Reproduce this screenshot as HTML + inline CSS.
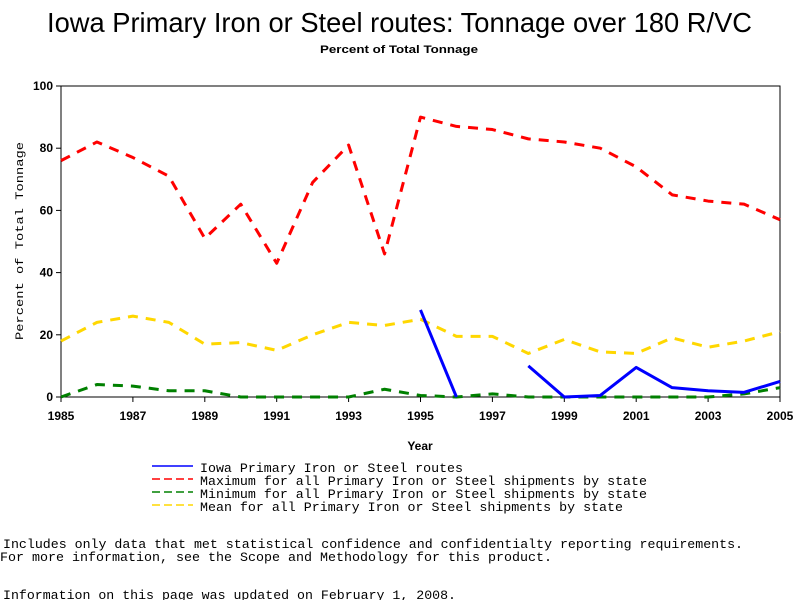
<!DOCTYPE html>
<html><head><meta charset="utf-8"><style>
html,body{margin:0;padding:0;background:#fff;width:800px;height:600px;overflow:hidden}
svg text{font-family:"Liberation Sans",sans-serif}
svg text.mono, svg .mono text{font-family:"Liberation Mono",monospace}
</style></head><body>
<svg id="chart" width="800" height="600" xmlns="http://www.w3.org/2000/svg">
<text x="47" y="32" font-size="28" textLength="705" lengthAdjust="spacingAndGlyphs">Iowa Primary Iron or Steel routes: Tonnage over 180 R/VC</text>
<text x="320" y="53" font-size="11" font-weight="bold" textLength="158" lengthAdjust="spacingAndGlyphs">Percent of Total Tonnage</text>
<rect x="61" y="86" width="719" height="311" fill="none" stroke="#000" stroke-width="1"/>
<g id="yticks"></g><g id="xticks"></g><g id="series"></g>
<text class="mono" transform="translate(23,241) rotate(-90)" text-anchor="middle" font-size="11" textLength="198" lengthAdjust="spacingAndGlyphs">Percent of Total Tonnage</text>
<text x="420" y="450" text-anchor="middle" font-size="12" font-weight="bold">Year</text>
<g class="mono" font-size="13">
 <g><line x1="152" y1="466" x2="193" y2="466" stroke="#0000ff" stroke-width="1.5"/><text x="200" y="472" textLength="263" lengthAdjust="spacingAndGlyphs">Iowa Primary Iron or Steel routes</text></g>
 <g><line x1="152" y1="479" x2="193" y2="479" stroke="#ff0000" stroke-width="1.5" stroke-dasharray="8,4"/><text x="200" y="485" textLength="447" lengthAdjust="spacingAndGlyphs">Maximum for all Primary Iron or Steel shipments by state</text></g>
 <g><line x1="152" y1="492" x2="193" y2="492" stroke="#008000" stroke-width="1.5" stroke-dasharray="8,4"/><text x="200" y="498" textLength="447" lengthAdjust="spacingAndGlyphs">Minimum for all Primary Iron or Steel shipments by state</text></g>
 <g><line x1="152" y1="505" x2="193" y2="505" stroke="#ffd700" stroke-width="1.5" stroke-dasharray="8,4"/><text x="200" y="511" textLength="423" lengthAdjust="spacingAndGlyphs">Mean for all Primary Iron or Steel shipments by state</text></g>
</g>
<g class="mono" font-size="13">
<text x="3" y="548" textLength="740" lengthAdjust="spacingAndGlyphs">Includes only data that met statistical confidence and confidentialty reporting requirements.</text>
<text x="0" y="561" textLength="552" lengthAdjust="spacingAndGlyphs">For more information, see the Scope and Methodology for this product.</text>
<text x="3" y="599" textLength="453" lengthAdjust="spacingAndGlyphs">Information on this page was updated on February 1, 2008.</text>
</g>
</svg>
<script>
const years=[1985,1986,1987,1988,1989,1990,1991,1992,1993,1994,1995,1996,1997,1998,1999,2000,2001,2002,2003,2004,2005];
const maxVals=[76,82,77,71,51,62,43,69,81,46,90,87,86,83,82,80,74,65,63,62,57];
const meanVals=[18,24,26,24,17,17.5,15,20,24,23,25,19.5,19.5,14,18.5,14.5,14,19,16,18,21];
const minVals=[0,4,3.5,2,2,0,0,0,0,2.5,0.5,0,1,0,0,0,0,0,0,1,3];
const iowaVals=[null,null,null,null,null,null,null,null,null,null,28,0,null,10,0,0.5,9.5,3,2,1.5,5];
const yTicks=[0,20,40,60,80,100];
const xTicks=[1985,1987,1989,1991,1993,1995,1997,1999,2001,2003,2005];
const NS="http://www.w3.org/2000/svg";
const X=y=>61+(y-1985)*(719/20);
const Y=v=>397-v*3.11;
function mk(t,a,p){const e=document.createElementNS(NS,t);for(const k in a)e.setAttribute(k,a[k]);p.appendChild(e);return e;}
const yt=document.getElementById('yticks');
yTicks.forEach(v=>{
 const l=mk('line',{x1:56,x2:61,y1:Y(v),y2:Y(v),stroke:'#000'},yt);
 
 
 const t=mk('text',{x:53,y:Y(v)+4,'text-anchor':'end','font-size':12,'font-weight':'bold'},yt);
 
 
 t.textContent=v;
});
const xt=document.getElementById('xticks');
xTicks.forEach(v=>{
 const l=mk('line',{x1:X(v),x2:X(v),y1:397,y2:402,stroke:'#000'},xt);
 
 
 const t=mk('text',{x:X(v),y:420,'text-anchor':'middle','font-size':12,'font-weight':'bold'},xt);
 
 
 t.textContent=v;
});
const sg=document.getElementById('series');
function draw(vals,color,dash,name){
 let segs=[],cur=[];
 vals.forEach((v,i)=>{if(v==null){if(cur.length)segs.push(cur);cur=[];}else cur.push([X(years[i]),Y(v)]);});
 if(cur.length)segs.push(cur);
 segs.forEach(s=>{
  const p=mk('polyline',{points:s.map(q=>q.join(',')).join(' '),fill:'none',stroke:color,'stroke-width':3,'stroke-linejoin':'round'},sg);
  if(dash)p.setAttribute('stroke-dasharray',dash);
  
  
 });
}
draw(meanVals,'#ffd700','10,8','mean-line');
draw(minVals,'#008000','10,8','minimum-line');
draw(maxVals,'#ff0000','10,8','maximum-line');
draw(iowaVals,'#0000ff',null,'iowa-line');
</script>
</body></html>
